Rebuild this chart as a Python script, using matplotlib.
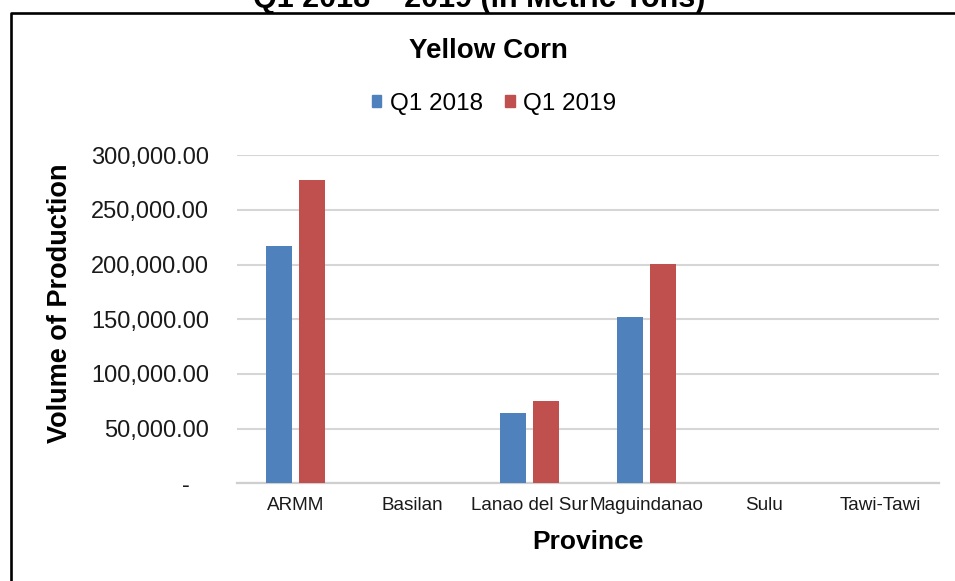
import matplotlib
matplotlib.use("Agg")
import matplotlib.pyplot as plt
import numpy as np
from matplotlib.patches import Patch
from matplotlib.lines import Line2D
from matplotlib.ticker import FuncFormatter

plt.rcParams['font.family'] = ['Liberation Sans', 'DejaVu Sans']

provinces = ["ARMM", "Basilan", "Lanao del Sur", "Maguindanao", "Sulu", "Tawi-Tawi"]
q1_2018 = [217300, 0, 64600, 151800, 0, 0]
q1_2019 = [277100, 0, 75600, 200900, 0, 0]
series_names = ["Q1 2018", "Q1 2019"]
yticks = [0, 50000, 100000, 150000, 200000, 250000, 300000]

W, H = 955, 581
fig = plt.figure(figsize=(W / 100, H / 100), dpi=100)

def fx(px):
    return px / W

def fy(py):
    return 1 - py / H

left, right, top, bottom = 237, 939, 155.3, 483.3
ax = fig.add_axes([fx(left), fy(bottom), fx(right - left), (bottom - top) / H])

x = np.arange(len(provinces))
bw = 0.227
off = 0.142
blue = "#4f81bd"
red = "#c0504d"
ax.bar(x - off, q1_2018, width=bw, color=blue, zorder=3)
ax.bar(x + off, q1_2019, width=bw, color=red, zorder=3)

ax.set_xlim(-0.5, len(provinces) - 0.5)
ax.set_ylim(0, 300000)
ax.set_yticks(yticks)

def fmt(v, pos):
    if v == 0:
        return "-   "
    return f"{v:,.2f}"

ax.yaxis.set_major_formatter(FuncFormatter(fmt))
ax.set_xticks(x)
ax.set_xticklabels(provinces)
ax.tick_params(axis='y', length=0, pad=20, labelsize=17, labelcolor="#1a1a1a")
ax.tick_params(axis='x', length=0, pad=10, labelsize=13.6, labelcolor="#1a1a1a")
ax.grid(axis='y', color="#d6d6d6", linewidth=1.5, zorder=0)
for s in ["top", "right", "left"]:
    ax.spines[s].set_visible(False)
ax.spines["bottom"].set_color("#cfcfcf")
ax.spines["bottom"].set_linewidth(1.6)

# Titles
fig.text(fx(479), fy(7.5), "Q1 2018 \u2013 2019 (in Metric Tons)", ha="center", va="baseline",
         fontsize=22, fontweight="bold")
fig.text(fx(488), fy(58), "Yellow Corn", ha="center", va="baseline", fontsize=20, fontweight="bold")

handles = [Patch(color=blue), Patch(color=red)]
fig.legend(handles, series_names, loc="center", bbox_to_anchor=(fx(494), fy(104)),
           ncol=2, frameon=False, fontsize=17.5, handlelength=0.4, handleheight=0.4,
           handletextpad=0.35, columnspacing=0.9, borderpad=0)

fig.text(fx(60), fy(303), "Volume of Production", rotation=90, ha="center", va="center",
         fontsize=19.5, fontweight="bold")
fig.text(fx(588), fy(549), "Province", ha="center", va="baseline", fontsize=19, fontweight="bold")

# Frame border
fig.add_artist(Line2D([fx(10.5), fx(10.5), fx(W + 5)], [fy(H + 5), fy(12.5), fy(12.5)],
                      color="black", linewidth=1.9, transform=fig.transFigure))

fig.savefig("out.png", dpi=100)
